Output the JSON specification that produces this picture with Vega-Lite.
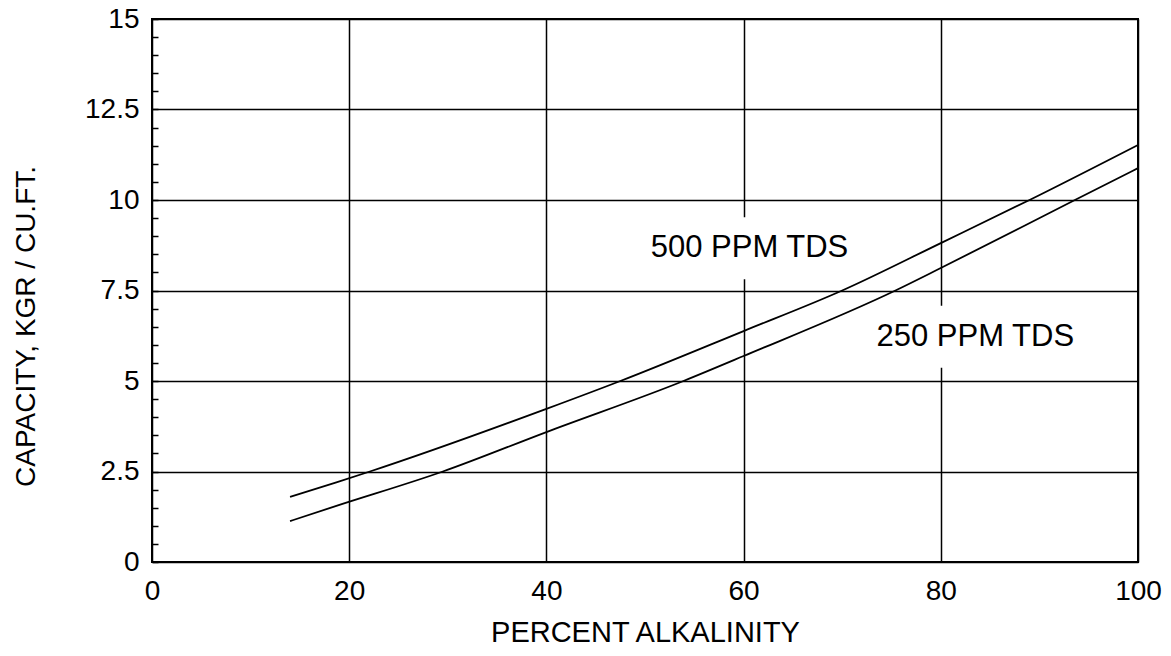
{
  "$schema": "https://vega.github.io/schema/vega-lite/v6.json",
  "width": 986,
  "height": 543,
  "autosize": {"type": "none"},
  "padding": {"left": 152, "top": 19, "right": 33, "bottom": 94},
  "background": "white",
  "config": {
    "view": {"stroke": "black", "strokeWidth": 2},
    "font": "Liberation Sans"
  },
  "datasets": {
    "curves": [
      {"series": "500 PPM TDS", "x": 14, "y": 1.80},
      {"series": "500 PPM TDS", "x": 18.7, "y": 2.2},
      {"series": "500 PPM TDS", "x": 22.1, "y": 2.5},
      {"series": "500 PPM TDS", "x": 40, "y": 4.23},
      {"series": "500 PPM TDS", "x": 47.5, "y": 5.0},
      {"series": "500 PPM TDS", "x": 60, "y": 6.38},
      {"series": "500 PPM TDS", "x": 70, "y": 7.5},
      {"series": "500 PPM TDS", "x": 80, "y": 8.81},
      {"series": "500 PPM TDS", "x": 89, "y": 10.0},
      {"series": "500 PPM TDS", "x": 100, "y": 11.52},
      {"series": "250 PPM TDS", "x": 14, "y": 1.13},
      {"series": "250 PPM TDS", "x": 18.7, "y": 1.55},
      {"series": "250 PPM TDS", "x": 29.5, "y": 2.5},
      {"series": "250 PPM TDS", "x": 40, "y": 3.59},
      {"series": "250 PPM TDS", "x": 53.9, "y": 5.0},
      {"series": "250 PPM TDS", "x": 60, "y": 5.69},
      {"series": "250 PPM TDS", "x": 75.4, "y": 7.5},
      {"series": "250 PPM TDS", "x": 80, "y": 8.12},
      {"series": "250 PPM TDS", "x": 93.6, "y": 10.0},
      {"series": "250 PPM TDS", "x": 100, "y": 10.88}
    ],
    "labels": [
      {"label": "500 PPM TDS", "x": 60.6, "y": 8.67},
      {"label": "250 PPM TDS", "x": 83.5, "y": 6.22}
    ]
  },
  "encoding": {
    "x": {
      "field": "x",
      "type": "quantitative",
      "scale": {"domain": [0, 100], "nice": false, "zero": true},
      "axis": {
        "values": [0, 20, 40, 60, 80, 100],
        "grid": true,
        "gridColor": "black",
        "gridWidth": 1.5,
        "gridOpacity": 1,
        "ticks": false,
        "domain": false,
        "labelFontSize": 28,
        "labelColor": "black",
        "labelPadding": 15,
        "labelFlush": false,
        "title": "PERCENT ALKALINITY",
        "titleFontSize": 29,
        "titleFontWeight": "normal",
        "titleColor": "black",
        "titlePadding": 13
      }
    },
    "y": {
      "field": "y",
      "type": "quantitative",
      "scale": {"domain": [0, 15], "nice": false, "zero": true},
      "axis": {
        "values": [0, 0.5, 1, 1.5, 2, 2.5, 3, 3.5, 4, 4.5, 5, 5.5, 6, 6.5, 7, 7.5, 8, 8.5, 9, 9.5, 10, 10.5, 11, 11.5, 12, 12.5, 13, 13.5, 14, 14.5, 15],
        "format": "~g",
        "grid": true,
        "gridColor": "black",
        "gridWidth": 1.5,
        "gridOpacity": {"condition": {"test": "datum.value % 2.5 === 0", "value": 1}, "value": 0},
        "ticks": true,
        "tickSize": -6,
        "tickColor": "black",
        "tickWidth": 1.5,
        "domain": false,
        "labelExpr": "datum.value % 2.5 === 0 ? datum.label : ''",
        "labelOverlap": false,
        "labelFontSize": 28,
        "labelColor": "black",
        "labelPadding": 19,
        "labelFlush": false,
        "title": "CAPACITY, KGR / CU.FT.",
        "titleFontSize": 28,
        "titleFontWeight": "normal",
        "titleColor": "black",
        "titleX": -112,
        "titleY": 307
      }
    }
  },
  "layer": [
    {
      "data": {"name": "labels"},
      "mark": {"type": "rect", "fill": "white", "xOffset": -108, "x2Offset": 108, "yOffset": -31, "y2Offset": 31},
      "encoding": {
        "x2": {"field": "x"},
        "y2": {"field": "y"}
      }
    },
    {
      "data": {"name": "curves"},
      "mark": {"type": "line", "color": "black", "strokeWidth": 1.8, "interpolate": "monotone"},
      "encoding": {
        "detail": {"field": "series", "type": "nominal"}
      }
    },
    {
      "data": {"name": "labels"},
      "mark": {"type": "text", "fontSize": 31, "color": "black", "align": "center", "baseline": "middle"},
      "encoding": {
        "text": {"field": "label", "type": "nominal"}
      }
    }
  ]
}
